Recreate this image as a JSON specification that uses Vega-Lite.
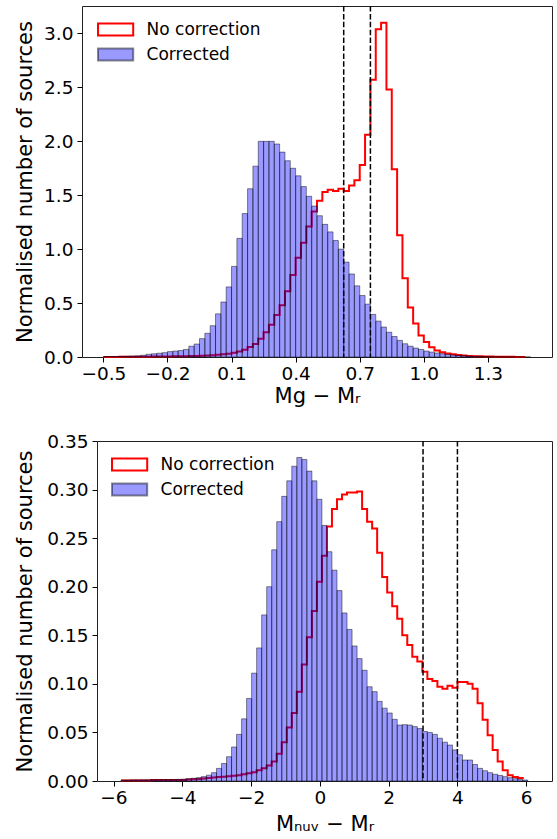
{
  "$schema": "https://vega.github.io/schema/vega-lite/v6.json",
  "background": "white",
  "padding": {"left": 14, "top": 4, "right": 3, "bottom": 2},
  "config": {
    "font": "DejaVu Sans",
    "view": {"stroke": "#222222", "strokeWidth": 1},
    "axis": {"grid": false, "domain": false, "domainColor": "#222222", "domainWidth": 1, "tickColor": "#000000", "tickSize": 5, "tickWidth": 1, "labelColor": "#000000", "titleColor": "#000000", "labelFontSize": 18.5, "titleFontSize": 21, "titleFontWeight": "normal", "labelPadding": 4, "titlePadding": 8, "labelFont": "DejaVu Sans", "titleFont": "DejaVu Sans", "labelOverlap": false, "labelFlush": false},
    "axisX": {"titlePadding": 3, "labelPadding": 2},
    "legend": {"title": null, "orient": "none", "legendX": 21.6, "legendY": 11.5, "padding": 0, "symbolType": "M-1.6,-0.55H1.6V0.55H-1.6Z", "symbolSize": 484, "symbolStrokeWidth": 2, "labelFontSize": 17, "labelFont": "DejaVu Sans", "labelColor": "#000000", "labelOffset": 19, "rowPadding": 2}
  },
  "datasets": {
    "gr": [
      {"lo":-0.5,"hi":-0.475,"cor":0.003,"raw":0.001},
      {"lo":-0.475,"hi":-0.45,"cor":0.004,"raw":0.001},
      {"lo":-0.45,"hi":-0.425,"cor":0.005,"raw":0.001},
      {"lo":-0.425,"hi":-0.4,"cor":0.006,"raw":0.002},
      {"lo":-0.4,"hi":-0.375,"cor":0.007,"raw":0.002},
      {"lo":-0.375,"hi":-0.35,"cor":0.009,"raw":0.002},
      {"lo":-0.35,"hi":-0.325,"cor":0.011,"raw":0.003},
      {"lo":-0.325,"hi":-0.3,"cor":0.016,"raw":0.003},
      {"lo":-0.3,"hi":-0.275,"cor":0.025,"raw":0.003},
      {"lo":-0.275,"hi":-0.25,"cor":0.03,"raw":0.004},
      {"lo":-0.25,"hi":-0.225,"cor":0.035,"raw":0.004},
      {"lo":-0.225,"hi":-0.2,"cor":0.04,"raw":0.005},
      {"lo":-0.2,"hi":-0.175,"cor":0.05,"raw":0.005},
      {"lo":-0.175,"hi":-0.15,"cor":0.055,"raw":0.006},
      {"lo":-0.15,"hi":-0.125,"cor":0.06,"raw":0.007},
      {"lo":-0.125,"hi":-0.1,"cor":0.07,"raw":0.008},
      {"lo":-0.1,"hi":-0.075,"cor":0.1,"raw":0.009},
      {"lo":-0.075,"hi":-0.05,"cor":0.12,"raw":0.01},
      {"lo":-0.05,"hi":-0.025,"cor":0.17,"raw":0.012},
      {"lo":-0.025,"hi":0,"cor":0.22,"raw":0.014},
      {"lo":0,"hi":0.025,"cor":0.29,"raw":0.017},
      {"lo":0.025,"hi":0.05,"cor":0.4,"raw":0.02},
      {"lo":0.05,"hi":0.075,"cor":0.51,"raw":0.025},
      {"lo":0.075,"hi":0.1,"cor":0.65,"raw":0.03},
      {"lo":0.1,"hi":0.125,"cor":0.84,"raw":0.04},
      {"lo":0.125,"hi":0.15,"cor":1.1,"raw":0.05},
      {"lo":0.15,"hi":0.175,"cor":1.33,"raw":0.068},
      {"lo":0.175,"hi":0.2,"cor":1.56,"raw":0.093},
      {"lo":0.2,"hi":0.225,"cor":1.77,"raw":0.12},
      {"lo":0.225,"hi":0.25,"cor":2.0,"raw":0.17},
      {"lo":0.25,"hi":0.275,"cor":2.0,"raw":0.23},
      {"lo":0.275,"hi":0.3,"cor":2.0,"raw":0.3},
      {"lo":0.3,"hi":0.325,"cor":1.975,"raw":0.39},
      {"lo":0.325,"hi":0.35,"cor":1.9,"raw":0.48},
      {"lo":0.35,"hi":0.375,"cor":1.82,"raw":0.61},
      {"lo":0.375,"hi":0.4,"cor":1.75,"raw":0.76},
      {"lo":0.4,"hi":0.425,"cor":1.68,"raw":0.92},
      {"lo":0.425,"hi":0.45,"cor":1.58,"raw":1.06},
      {"lo":0.45,"hi":0.475,"cor":1.49,"raw":1.21},
      {"lo":0.475,"hi":0.5,"cor":1.4,"raw":1.35},
      {"lo":0.5,"hi":0.525,"cor":1.31,"raw":1.45},
      {"lo":0.525,"hi":0.55,"cor":1.23,"raw":1.53},
      {"lo":0.55,"hi":0.575,"cor":1.16,"raw":1.55},
      {"lo":0.575,"hi":0.6,"cor":1.08,"raw":1.54},
      {"lo":0.6,"hi":0.625,"cor":1.0,"raw":1.56},
      {"lo":0.625,"hi":0.65,"cor":0.88,"raw":1.54},
      {"lo":0.65,"hi":0.675,"cor":0.77,"raw":1.59},
      {"lo":0.675,"hi":0.7,"cor":0.66,"raw":1.64},
      {"lo":0.7,"hi":0.725,"cor":0.57,"raw":1.78},
      {"lo":0.725,"hi":0.75,"cor":0.49,"raw":2.06},
      {"lo":0.75,"hi":0.775,"cor":0.395,"raw":2.57},
      {"lo":0.775,"hi":0.8,"cor":0.333,"raw":3.04},
      {"lo":0.8,"hi":0.825,"cor":0.278,"raw":3.1},
      {"lo":0.825,"hi":0.85,"cor":0.23,"raw":2.48},
      {"lo":0.85,"hi":0.875,"cor":0.19,"raw":1.74},
      {"lo":0.875,"hi":0.9,"cor":0.154,"raw":1.13},
      {"lo":0.9,"hi":0.925,"cor":0.123,"raw":0.73},
      {"lo":0.925,"hi":0.95,"cor":0.1,"raw":0.46},
      {"lo":0.95,"hi":0.975,"cor":0.083,"raw":0.31},
      {"lo":0.975,"hi":1.0,"cor":0.07,"raw":0.2},
      {"lo":1.0,"hi":1.025,"cor":0.055,"raw":0.14},
      {"lo":1.025,"hi":1.05,"cor":0.045,"raw":0.09},
      {"lo":1.05,"hi":1.075,"cor":0.037,"raw":0.06},
      {"lo":1.075,"hi":1.1,"cor":0.03,"raw":0.045},
      {"lo":1.1,"hi":1.125,"cor":0.024,"raw":0.033},
      {"lo":1.125,"hi":1.15,"cor":0.019,"raw":0.025},
      {"lo":1.15,"hi":1.175,"cor":0.015,"raw":0.018},
      {"lo":1.175,"hi":1.2,"cor":0.012,"raw":0.013},
      {"lo":1.2,"hi":1.225,"cor":0.009,"raw":0.01},
      {"lo":1.225,"hi":1.25,"cor":0.007,"raw":0.008},
      {"lo":1.25,"hi":1.275,"cor":0.005,"raw":0.006},
      {"lo":1.275,"hi":1.3,"cor":0.004,"raw":0.005},
      {"lo":1.3,"hi":1.325,"cor":0.003,"raw":0.004},
      {"lo":1.325,"hi":1.35,"cor":0.002,"raw":0.003},
      {"lo":1.35,"hi":1.375,"cor":0.0015,"raw":0.003},
      {"lo":1.375,"hi":1.4,"cor":0.001,"raw":0.002},
      {"lo":1.4,"hi":1.425,"cor":0.001,"raw":0.002},
      {"lo":1.425,"hi":1.45,"cor":0.0005,"raw":0.001},
      {"lo":1.45,"hi":1.475,"cor":0,"raw":0.001},
      {"lo":1.475,"hi":1.5,"cor":0,"raw":0.001}
    ],
    "nuvr": [
      {"lo":-5.78,"hi":-5.634,"cor":0.001,"raw":0.0005},
      {"lo":-5.634,"hi":-5.488,"cor":0.001,"raw":0.0005},
      {"lo":-5.488,"hi":-5.342,"cor":0.0012,"raw":0.0005},
      {"lo":-5.342,"hi":-5.196,"cor":0.0012,"raw":0.0005},
      {"lo":-5.196,"hi":-5.05,"cor":0.0013,"raw":0.0005},
      {"lo":-5.05,"hi":-4.904,"cor":0.0013,"raw":0.0005},
      {"lo":-4.904,"hi":-4.758,"cor":0.0014,"raw":0.001},
      {"lo":-4.758,"hi":-4.612,"cor":0.0014,"raw":0.001},
      {"lo":-4.612,"hi":-4.466,"cor":0.0015,"raw":0.001},
      {"lo":-4.466,"hi":-4.32,"cor":0.0015,"raw":0.001},
      {"lo":-4.32,"hi":-4.174,"cor":0.0016,"raw":0.001},
      {"lo":-4.174,"hi":-4.028,"cor":0.0017,"raw":0.001},
      {"lo":-4.028,"hi":-3.882,"cor":0.0019,"raw":0.001},
      {"lo":-3.882,"hi":-3.736,"cor":0.0024,"raw":0.0015},
      {"lo":-3.736,"hi":-3.59,"cor":0.0028,"raw":0.0018},
      {"lo":-3.59,"hi":-3.444,"cor":0.0035,"raw":0.002},
      {"lo":-3.444,"hi":-3.298,"cor":0.0045,"raw":0.0025},
      {"lo":-3.298,"hi":-3.152,"cor":0.006,"raw":0.003},
      {"lo":-3.152,"hi":-3.006,"cor":0.0086,"raw":0.0035},
      {"lo":-3.006,"hi":-2.86,"cor":0.013,"raw":0.004},
      {"lo":-2.86,"hi":-2.714,"cor":0.018,"raw":0.0045},
      {"lo":-2.714,"hi":-2.568,"cor":0.025,"raw":0.005},
      {"lo":-2.568,"hi":-2.422,"cor":0.035,"raw":0.0055},
      {"lo":-2.422,"hi":-2.276,"cor":0.048,"raw":0.006},
      {"lo":-2.276,"hi":-2.13,"cor":0.064,"raw":0.007},
      {"lo":-2.13,"hi":-1.984,"cor":0.085,"raw":0.008},
      {"lo":-1.984,"hi":-1.838,"cor":0.111,"raw":0.009},
      {"lo":-1.838,"hi":-1.692,"cor":0.137,"raw":0.011},
      {"lo":-1.692,"hi":-1.546,"cor":0.171,"raw":0.013},
      {"lo":-1.546,"hi":-1.4,"cor":0.2,"raw":0.016},
      {"lo":-1.4,"hi":-1.254,"cor":0.238,"raw":0.02},
      {"lo":-1.254,"hi":-1.108,"cor":0.267,"raw":0.028},
      {"lo":-1.108,"hi":-0.962,"cor":0.293,"raw":0.04},
      {"lo":-0.962,"hi":-0.816,"cor":0.309,"raw":0.055},
      {"lo":-0.816,"hi":-0.67,"cor":0.324,"raw":0.07},
      {"lo":-0.67,"hi":-0.524,"cor":0.333,"raw":0.092},
      {"lo":-0.524,"hi":-0.378,"cor":0.331,"raw":0.12},
      {"lo":-0.378,"hi":-0.232,"cor":0.319,"raw":0.148},
      {"lo":-0.232,"hi":-0.086,"cor":0.309,"raw":0.175},
      {"lo":-0.086,"hi":0.06,"cor":0.29,"raw":0.205},
      {"lo":0.06,"hi":0.206,"cor":0.263,"raw":0.232},
      {"lo":0.206,"hi":0.352,"cor":0.236,"raw":0.262},
      {"lo":0.352,"hi":0.498,"cor":0.217,"raw":0.28},
      {"lo":0.498,"hi":0.644,"cor":0.196,"raw":0.29},
      {"lo":0.644,"hi":0.79,"cor":0.173,"raw":0.295},
      {"lo":0.79,"hi":0.936,"cor":0.156,"raw":0.297},
      {"lo":0.936,"hi":1.082,"cor":0.139,"raw":0.297},
      {"lo":1.082,"hi":1.228,"cor":0.126,"raw":0.298},
      {"lo":1.228,"hi":1.374,"cor":0.114,"raw":0.28},
      {"lo":1.374,"hi":1.52,"cor":0.097,"raw":0.267},
      {"lo":1.52,"hi":1.666,"cor":0.092,"raw":0.26},
      {"lo":1.666,"hi":1.812,"cor":0.082,"raw":0.235},
      {"lo":1.812,"hi":1.958,"cor":0.075,"raw":0.21},
      {"lo":1.958,"hi":2.104,"cor":0.07,"raw":0.194},
      {"lo":2.104,"hi":2.25,"cor":0.0635,"raw":0.18},
      {"lo":2.25,"hi":2.396,"cor":0.0576,"raw":0.167},
      {"lo":2.396,"hi":2.542,"cor":0.058,"raw":0.15},
      {"lo":2.542,"hi":2.688,"cor":0.0576,"raw":0.14},
      {"lo":2.688,"hi":2.834,"cor":0.056,"raw":0.128},
      {"lo":2.834,"hi":2.98,"cor":0.054,"raw":0.123},
      {"lo":2.98,"hi":3.126,"cor":0.051,"raw":0.1125},
      {"lo":3.126,"hi":3.272,"cor":0.05,"raw":0.105},
      {"lo":3.272,"hi":3.418,"cor":0.048,"raw":0.103},
      {"lo":3.418,"hi":3.564,"cor":0.044,"raw":0.097},
      {"lo":3.564,"hi":3.71,"cor":0.04,"raw":0.095},
      {"lo":3.71,"hi":3.856,"cor":0.037,"raw":0.098},
      {"lo":3.856,"hi":4.002,"cor":0.032,"raw":0.096},
      {"lo":4.002,"hi":4.148,"cor":0.027,"raw":0.102},
      {"lo":4.148,"hi":4.294,"cor":0.0216,"raw":0.102},
      {"lo":4.294,"hi":4.44,"cor":0.0216,"raw":0.1},
      {"lo":4.44,"hi":4.586,"cor":0.017,"raw":0.095},
      {"lo":4.586,"hi":4.732,"cor":0.013,"raw":0.08},
      {"lo":4.732,"hi":4.878,"cor":0.0106,"raw":0.063},
      {"lo":4.878,"hi":5.024,"cor":0.0086,"raw":0.047},
      {"lo":5.024,"hi":5.17,"cor":0.0069,"raw":0.032},
      {"lo":5.17,"hi":5.316,"cor":0.0058,"raw":0.02},
      {"lo":5.316,"hi":5.462,"cor":0.0045,"raw":0.011},
      {"lo":5.462,"hi":5.608,"cor":0.0034,"raw":0.006},
      {"lo":5.608,"hi":5.754,"cor":0.0024,"raw":0.004},
      {"lo":5.754,"hi":5.9,"cor":0.0017,"raw":0.003},
      {"lo":5.9,"hi":6.046,"cor":0.001,"raw":0.002}
    ]
  },
  "columns": 1,
  "spacing": 25,
  "resolve": {"scale": {"fill": "independent", "stroke": "independent"}, "legend": {"fill": "independent", "stroke": "independent"}},
  "concat": [
    {
      "width": 470,
      "height": 351,
      "layer": [
        {
          "data": {"name": "gr"},
          "mark": {"type": "line", "interpolate": "step-after", "strokeWidth": 2},
          "encoding": {
            "x": {"field": "lo", "type": "quantitative", "scale": {"domain": [-0.6, 1.6], "nice": false, "zero": false}, "axis": {"title": "Mg − Mᵣ", "values": [-0.5, -0.2, 0.1, 0.4, 0.7, 1.0, 1.3], "format": ".1f"}},
            "y": {"field": "raw", "type": "quantitative", "scale": {"domain": [0, 3.255], "nice": false}, "axis": {"title": "Normalised number of sources", "values": [0, 0.5, 1, 1.5, 2, 2.5, 3], "format": ".1f"}},
            "stroke": {"datum": "No correction", "type": "nominal", "scale": {"domain": ["No correction", "Corrected"], "range": ["#ff0000", "rgba(0,0,0,0.45)"]}}
          }
        },
        {
          "data": {"name": "gr"},
          "mark": {"type": "rect", "strokeWidth": 1},
          "encoding": {
            "x": {"field": "lo", "type": "quantitative", "title": "Mg − Mᵣ"},
            "x2": {"field": "hi"},
            "y": {"field": "cor", "type": "quantitative", "title": "Normalised number of sources"},
            "y2": {"datum": 0},
            "fill": {"datum": "Corrected", "type": "nominal", "scale": {"domain": ["No correction", "Corrected"], "range": ["rgba(255,255,255,0)", "rgba(0,0,255,0.4)"]}},
            "stroke": {"datum": "Corrected", "type": "nominal"}
          }
        },
        {
          "data": {"values": [{"cut": 0.625}, {"cut": 0.75}]},
          "mark": {"type": "rule", "color": "#000000", "strokeWidth": 1.5, "strokeDash": [5.5, 2.4]},
          "encoding": {"x": {"field": "cut", "type": "quantitative", "title": "Mg − Mᵣ"}}
        }
      ]
    },
    {
      "width": 470,
      "height": 340,
      "view": {"stroke": null},
      "resolve": {"axis": {"x": "independent", "y": "independent"}},
      "layer": [
        {
          "data": {"name": "nuvr"},
          "mark": {"type": "line", "interpolate": "step-after", "strokeWidth": 2},
          "encoding": {
            "x": {"field": "lo", "type": "quantitative", "scale": {"domain": [-6.48, 6.75], "range": [15, 470], "nice": false, "zero": false}, "axis": {"title": "Mₙᵤᵥ − Mᵣ", "values": [-6, -4, -2, 0, 2, 4, 6], "format": "d", "domain": true, "titlePadding": 7}},
            "y": {"field": "raw", "type": "quantitative", "scale": {"domain": [0, 0.35], "nice": false}, "axis": {"title": "Normalised number of sources", "values": [0, 0.05, 0.1, 0.15, 0.2, 0.25, 0.3, 0.35], "format": ".2f", "offset": -15, "titlePadding": 11.6, "domain": true}},
            "stroke": {"datum": "No correction", "type": "nominal", "scale": {"domain": ["No correction", "Corrected"], "range": ["#ff0000", "rgba(0,0,0,0.45)"]}, "legend": {"legendX": 35.6}}
          }
        },
        {
          "data": {"name": "nuvr"},
          "mark": {"type": "rect", "strokeWidth": 1},
          "encoding": {
            "x": {"field": "lo", "type": "quantitative", "axis": null},
            "x2": {"field": "hi"},
            "y": {"field": "cor", "type": "quantitative", "axis": {"orient": "right", "title": null, "labels": false, "ticks": false, "domain": true}},
            "y2": {"datum": 0},
            "fill": {"datum": "Corrected", "type": "nominal", "scale": {"domain": ["No correction", "Corrected"], "range": ["rgba(255,255,255,0)", "rgba(0,0,255,0.4)"]}, "legend": {"legendX": 35.6}},
            "stroke": {"datum": "Corrected", "type": "nominal", "legend": {"legendX": 35.6}}
          }
        },
        {
          "data": {"values": [{"cut": 3}, {"cut": 4}]},
          "mark": {"type": "rule", "color": "#000000", "strokeWidth": 1.5, "strokeDash": [5.5, 2.4]},
          "encoding": {"x": {"field": "cut", "type": "quantitative", "axis": {"orient": "top", "title": null, "labels": false, "ticks": false, "domain": true}}}
        }
      ]
    }
  ]
}
